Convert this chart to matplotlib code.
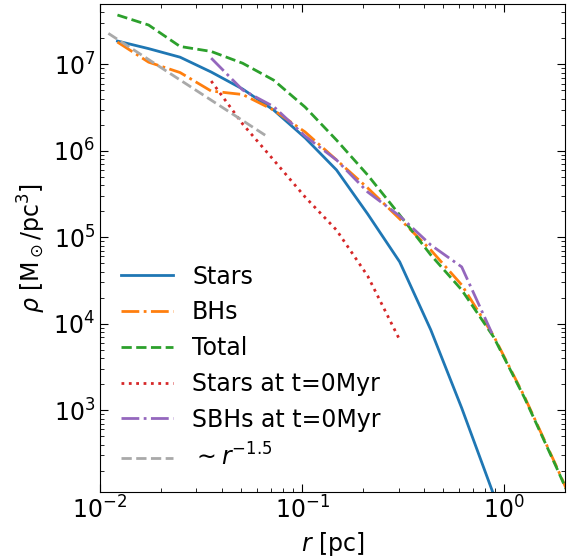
import matplotlib
matplotlib.use("Agg")
import matplotlib.pyplot as plt

# radial bins [pc]
r = [0.0122, 0.0174, 0.0249, 0.0355, 0.0508, 0.0723, 0.1035, 0.148,
     0.211, 0.304, 0.433, 0.616, 0.887, 1.26, 1.80, 2.56]

rho_stars = [1.86e7, 1.52e7, 1.21e7, 8.15e6, 5.18e6, 2.96e6, 1.41e6, 6.0e5,
             1.86e5, 5.19e4, 8.5e3, 1.06e3, 105]
rho_bhs = [1.81e7, 1.06e7, 8.04e6, 4.91e6, 4.48e6, 2.96e6, 1.65e6, 7.83e5,
           3.72e5, 1.63e5, 7.13e4, 2.81e4, 7.2e3, 1.43e3, 232, 36]
rho_total = [3.72e7, 2.85e7, 1.61e7, 1.41e7, 1.03e7, 6.57e6, 3.2e6, 1.33e6,
             5.25e5, 1.81e5, 6.25e4, 2.46e4, 7.0e3, 1.39e3, 226, 36]

# initial profiles (t = 0 Myr), starting from the 4th bin
rho_stars0 = [6.41e6, 2.04e6, 7.83e5, 2.92e5, 1.21e5, 3.57e4, 6.5e3]
rho_sbhs0 = [1.18e7, 5.05e6, 3.25e6, 1.48e6, 7.83e5, 3.34e5, 1.76e5,
             8.15e4, 4.54e4, 7.0e3]

# reference slope ~ r^-1.5
r_ref = [0.011, 0.0673]
rho_ref = [2.28e7, 1.46e6]

FS = 17
plt.rcParams["font.size"] = FS
plt.rcParams["mathtext.fontset"] = "dejavusans"

fig = plt.figure(figsize=(5.76, 5.6), dpi=100)
ax = fig.add_axes([0.1736, 0.1214, 0.8074, 0.8716])

ax.plot(r[:len(rho_stars)], rho_stars, "-", color="C0", lw=2, label="Stars")
ax.plot(r, rho_bhs, "-.", color="C1", lw=2, label="BHs")
ax.plot(r, rho_total, "--", color="C2", lw=2, label="Total")
ax.plot(r[3:3 + len(rho_stars0)], rho_stars0, ":", color="C3", lw=2,
        label="Stars at t=0Myr")
ax.plot(r[3:3 + len(rho_sbhs0)], rho_sbhs0, "-.", color="C4", lw=2,
        label="SBHs at t=0Myr")
ax.plot(r_ref, rho_ref, "--", color="darkgray", lw=2, label=r"$\sim r^{-1.5}$")

ax.set_xscale("log")
ax.set_yscale("log")
ax.set_xlim(0.01, 2)
ax.set_ylim(113, 5e7)

ax.tick_params(which="both", direction="in", top=True, right=True)
ax.tick_params(which="major", length=6, labelsize=FS)
ax.tick_params(which="minor", length=3)

ax.set_xlabel(r"$r$ [pc]", fontsize=FS)
ax.set_ylabel(r"$\rho$ [M$_\odot$/pc$^3$]", fontsize=FS)

ax.legend(loc="lower left", frameon=False, fontsize=FS,
          labelspacing=0.5, handlelength=2.2)

fig.savefig("out.png", dpi=100)
